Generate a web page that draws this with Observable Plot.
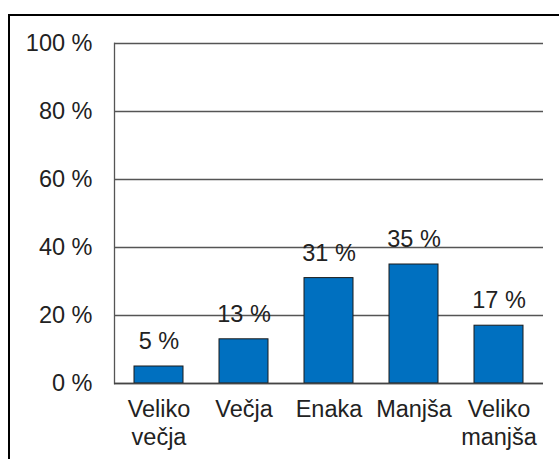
<!DOCTYPE html>
<html>
<head>
<meta charset="utf-8">
<script src="https://cdn.jsdelivr.net/npm/d3@7"></script>
<script src="https://cdn.jsdelivr.net/npm/@observablehq/plot@0.6"></script>
<style>
  html, body { margin: 0; padding: 0; background: #fff; }
  #wrap { position: relative; width: 559px; height: 459px; overflow: hidden; }
  #frame { position: absolute; left: 8px; top: 14px; width: 600px; height: 500px;
           border-top: 2px solid #000; border-left: 2px solid #000; box-sizing: border-box; }
  #chart { position: absolute; left: 0; top: 0; }
</style>
</head>
<body>
<div id="wrap"><div id="frame"></div><div id="chart"></div></div>
<script>
const categories = ["Veliko\nvečja", "Večja", "Enaka", "Manjša", "Veliko\nmanjša"];
const values = [5, 13, 31, 35, 17];
const yTicks = [0, 20, 40, 60, 80, 100];

const data = categories.map((c, i) => ({cat: c, val: values[i]}));

const chart = Plot.plot({
  width: 559,
  height: 459,
  marginLeft: 114,
  marginRight: 16,
  marginTop: 43,
  marginBottom: 76,
  style: {fontFamily: "Arial, 'Liberation Sans', sans-serif", fontSize: "23.5px", color: "#222", background: "transparent"},
  x: {domain: categories, paddingInner: 0.42, paddingOuter: 0.21, label: null},
  y: {domain: [0, 100], label: null},
  marks: [
    Plot.gridY(yTicks, {stroke: "#555", strokeOpacity: 1, strokeWidth: 1.3}),
    Plot.frame({anchor: "left", stroke: "#555", strokeWidth: 1.3}),
    Plot.barY(data, {x: "cat", y: "val", fill: "#0070C0", stroke: "#1a1a1a", strokeWidth: 1}),
    Plot.ruleY([0], {stroke: "#444", strokeWidth: 1.3}),
    Plot.text(data, {x: "cat", y: "val", text: d => `${d.val} %`, dy: -25, fill: "#222", fontSize: 23.5}),
    Plot.axisY(yTicks, {tickSize: 0, tickPadding: 22, tickFormat: d => `${d} %`, fontSize: 23.5, fill: "#222", label: null}),
    Plot.axisX({tickSize: 0, tickPadding: 14, fontSize: 23.5, fill: "#222", label: null, lineHeight: 1.18})
  ]
});
document.getElementById("chart").appendChild(chart);
</script>
</body>
</html>
